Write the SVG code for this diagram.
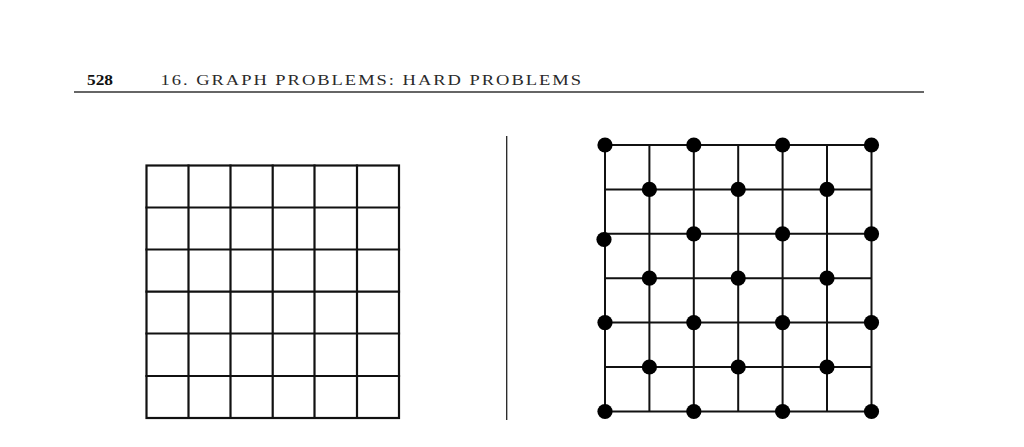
<svg xmlns="http://www.w3.org/2000/svg" width="1024" height="447" viewBox="0 0 1024 447">
<style>
.bg{fill:#fff}
.hdr{font-family:"Liberation Serif","DejaVu Serif",serif;font-size:15px;fill:#2a2a2a}
.ttl{letter-spacing:1.6px}
.pg{font-weight:bold;fill:#111}
.rule{stroke:#333;stroke-width:1.3}
.grid{stroke:#111;stroke-width:2.2;fill:none;stroke-linecap:square}
.edge{stroke:#111;stroke-width:2;fill:none}
.node{fill:#000}
</style>
<defs>
<circle id="dot" r="7.6" class="node"/>
</defs>
<rect class="bg" x="0" y="0" width="1024" height="447"/>
<g id="header">
<text class="hdr pg" x="87" y="84.5" textLength="26" lengthAdjust="spacingAndGlyphs">528</text>
<text class="hdr ttl" x="160.5" y="84.5" textLength="422.5" lengthAdjust="spacingAndGlyphs">16. GRAPH PROBLEMS: HARD PROBLEMS</text>
<line class="rule" x1="74" y1="92" x2="924" y2="92"/>
</g>
<g id="left-grid">
<rect class="grid" x="146.5" y="165.5" width="252.5" height="252.5"/>
<path class="grid" d="M188.5 165.5V418M230.5 165.5V418M272.7 165.5V418M314.5 165.5V418M357 165.5V418M146.5 207.5H399M146.5 249.5H399M146.5 291.7H399M146.5 333.5H399M146.5 376H399"/>
</g>
<g id="separator">
<line x1="506.7" y1="136" x2="506.7" y2="420" stroke="#222" stroke-width="1.3"/>
</g>
<g id="connectors">
<path class="edge" d="M605 145V411.5M649.4 145V411.5M693.8 145V411.5M738.2 145V411.5M782.6 145V411.5M827 145V411.5M871.5 145V411.5M605 145H871.5M605 189.4H871.5M605 233.8H871.5M605 278.2H871.5M605 322.6H871.5M605 367H871.5M605 411.5H871.5"/>
</g>
<g id="nodes">
<g id="n00"><use href="#dot" x="605" y="145"/></g>
<g id="n02"><use href="#dot" x="693.8" y="145"/></g>
<g id="n04"><use href="#dot" x="782.6" y="145"/></g>
<g id="n06"><use href="#dot" x="871.5" y="145"/></g>
<g id="n11"><use href="#dot" x="649.4" y="189.4"/></g>
<g id="n13"><use href="#dot" x="738.2" y="189.4"/></g>
<g id="n15"><use href="#dot" x="827" y="189.4"/></g>
<g id="n20"><use href="#dot" x="604" y="239.5"/></g>
<g id="n22"><use href="#dot" x="693.8" y="233.8"/></g>
<g id="n24"><use href="#dot" x="782.6" y="233.8"/></g>
<g id="n26"><use href="#dot" x="871.5" y="233.8"/></g>
<g id="n31"><use href="#dot" x="649.4" y="278.2"/></g>
<g id="n33"><use href="#dot" x="738.2" y="278.2"/></g>
<g id="n35"><use href="#dot" x="827" y="278.2"/></g>
<g id="n40"><use href="#dot" x="605" y="322.6"/></g>
<g id="n42"><use href="#dot" x="693.8" y="322.6"/></g>
<g id="n44"><use href="#dot" x="782.6" y="322.6"/></g>
<g id="n46"><use href="#dot" x="871.5" y="322.6"/></g>
<g id="n51"><use href="#dot" x="649.4" y="367"/></g>
<g id="n53"><use href="#dot" x="738.2" y="367"/></g>
<g id="n55"><use href="#dot" x="827" y="367"/></g>
<g id="n60"><use href="#dot" x="605" y="411.5"/></g>
<g id="n62"><use href="#dot" x="693.8" y="411.5"/></g>
<g id="n64"><use href="#dot" x="782.6" y="411.5"/></g>
<g id="n66"><use href="#dot" x="871.5" y="411.5"/></g>
</g>
</svg>
